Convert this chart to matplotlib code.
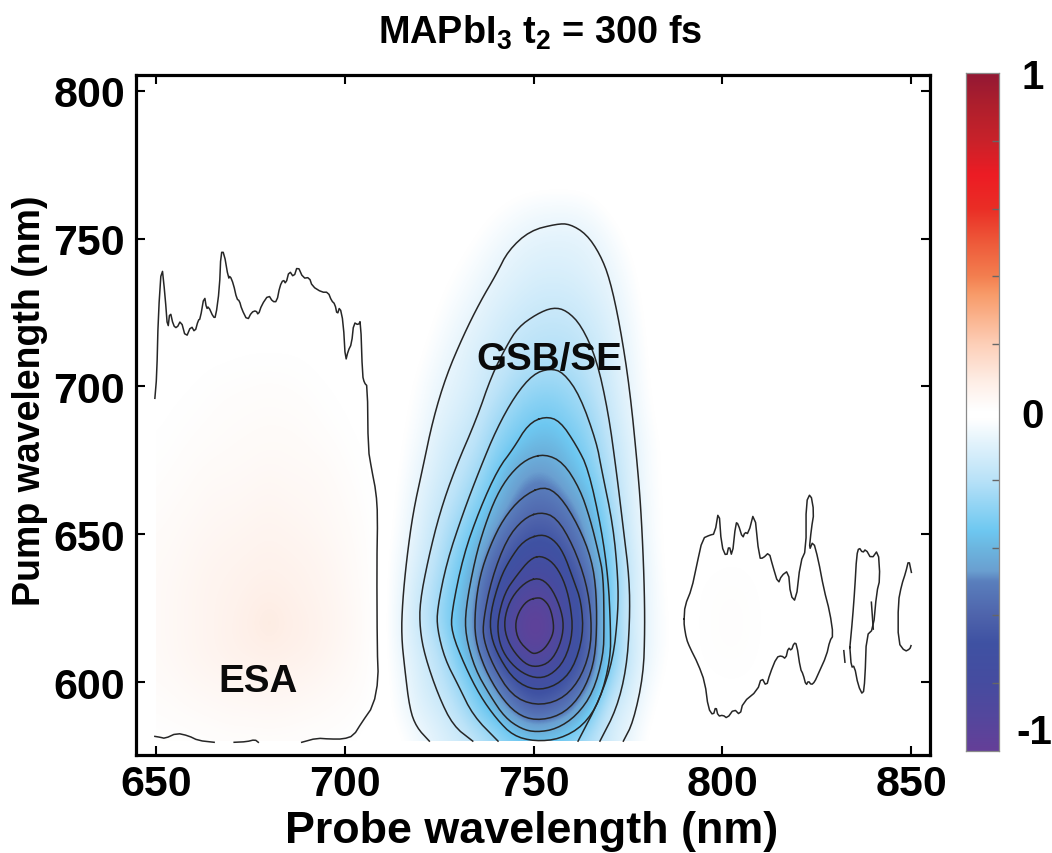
import numpy as np
import matplotlib
matplotlib.use("Agg")
import matplotlib.pyplot as plt
from matplotlib.colors import LinearSegmentedColormap
from matplotlib.patches import Rectangle
from matplotlib.transforms import ScaledTranslation

plt.rcParams['font.family'] = ['Liberation Sans', 'DejaVu Sans']
plt.rcParams['font.weight'] = 'bold'
plt.rcParams['mathtext.fontset'] = 'custom'
plt.rcParams['mathtext.bf'] = 'Liberation Sans:bold'
plt.rcParams['mathtext.rm'] = 'Liberation Sans:bold'

title = r'MAPbI$_{\mathbf{3}}$ t$_{\mathbf{2}}$ = 300 fs'
xlabel = 'Probe wavelength (nm)'
ylabel = 'Pump wavelength (nm)'
xticks = [650, 700, 750, 800, 850]
yticks = [600, 650, 700, 750, 800]

pump = [580, 590, 600, 610, 620, 630, 640, 650, 660, 670, 680, 690, 700, 710, 720, 730, 740, 750, 760, 770]
probe = list(range(650, 855, 5))

# probe 650..710
esa_values = [
    [.008, .008, .01, .012, .015, .015, .015, .015, .012, .01, .008, .002, 0],
    [.015, .02, .025, .03, .035, .035, .04, .035, .03, .025, .018, .01, 0],
    [.025, .03, .04, .045, .05, .055, .055, .055, .05, .04, .03, .018, 0],
    [.03, .04, .05, .06, .07, .075, .08, .075, .07, .055, .04, .022, 0],
    [.03, .04, .05, .06, .07, .085, .11, .085, .075, .06, .045, .025, 0],
    [.03, .04, .05, .06, .065, .075, .08, .075, .065, .055, .04, .022, 0],
    [.03, .035, .045, .055, .06, .065, .07, .065, .06, .05, .035, .02, 0],
    [.025, .03, .04, .045, .05, .055, .06, .055, .05, .04, .03, .018, 0],
    [.018, .025, .03, .04, .04, .045, .05, .045, .04, .035, .025, .012, 0],
    [.012, .018, .025, .03, .032, .035, .04, .035, .035, .03, .018, .008, 0],
    [.008, .012, .018, .022, .025, .028, .03, .03, .025, .02, .012, .004, 0],
    [.002, .008, .012, .016, .02, .022, .024, .022, .02, .012, .006, 0, 0],
    [0, .002, .006, .012, .014, .016, .018, .016, .012, .006, .002, 0, 0],
    [0, 0, 0, .002, .004, .006, .006, .006, .004, 0, 0, 0, 0],
    [0] * 13, [0] * 13, [0] * 13, [0] * 13, [0] * 13, [0] * 13,
]
# probe 715..790
gsb_values = [
    [-.01, -.05, -.10, -.13, -.18, -.24, -.30, -.335, -.32, -.27, -.20, -.13, -.07, -.01, 0, 0],
    [-.04, -.10, -.13, -.20, -.30, -.39, -.52, -.60, -.57, -.505, -.33, -.15, -.10, -.03, 0, 0],
    [-.05, -.12, -.175, -.26, -.37, -.52, -.655, -.755, -.72, -.63, -.52, -.25, -.14, -.05, -.01, 0],
    [-.07, -.13, -.20, -.33, -.49, -.69, -.87, -.94, -.89, -.74, -.59, -.335, -.17, -.07, -.02, 0],
    [-.08, -.165, -.26, -.375, -.52, -.74, -.925, -1.0, -.945, -.74, -.575, -.32, -.15, -.07, -.02, 0],
    [-.07, -.16, -.245, -.36, -.49, -.69, -.845, -.905, -.86, -.73, -.58, -.33, -.16, -.07, -.015, 0],
    [-.06, -.13, -.21, -.32, -.44, -.60, -.71, -.77, -.76, -.65, -.49, -.32, -.16, -.065, -.01, 0],
    [-.04, -.11, -.185, -.275, -.37, -.50, -.605, -.66, -.645, -.56, -.44, -.285, -.14, -.05, -.01, 0],
    [-.03, -.10, -.155, -.22, -.30, -.40, -.505, -.56, -.55, -.49, -.39, -.25, -.12, -.05, -.01, 0],
    [-.02, -.08, -.13, -.18, -.245, -.345, -.44, -.49, -.47, -.40, -.32, -.21, -.12, -.04, -.01, 0],
    [-.015, -.055, -.115, -.15, -.20, -.28, -.35, -.395, -.40, -.35, -.28, -.185, -.11, -.04, -.01, 0],
    [-.01, -.04, -.09, -.12, -.165, -.235, -.285, -.33, -.335, -.29, -.25, -.16, -.09, -.03, 0, 0],
    [-.005, -.03, -.07, -.10, -.13, -.18, -.235, -.265, -.27, -.25, -.205, -.14, -.08, -.02, 0, 0],
    [0, -.015, -.05, -.085, -.12, -.15, -.185, -.205, -.215, -.205, -.175, -.125, -.07, -.015, 0, 0],
    [0, -.005, -.03, -.065, -.095, -.125, -.155, -.175, -.18, -.175, -.145, -.11, -.06, -.01, 0, 0],
    [0, 0, -.015, -.04, -.07, -.10, -.12, -.14, -.145, -.14, -.12, -.09, -.045, -.005, 0, 0],
    [0, 0, -.005, -.02, -.045, -.075, -.095, -.11, -.115, -.11, -.095, -.07, -.03, 0, 0, 0],
    [0, 0, 0, -.005, -.02, -.045, -.07, -.085, -.09, -.09, -.08, -.045, -.01, 0, 0, 0],
    [0, 0, 0, 0, -.005, -.015, -.03, -.045, -.05, -.05, -.035, -.01, 0, 0, 0, 0],
    [0] * 16,
]
# probe 795..850
tail_values = [[0] * 12 for _ in pump]
tail_values[2] = [.002, .005, .005, .002, 0, 0, 0, 0, 0, 0, 0, 0]
tail_values[3] = [.008, .012, .012, .005, 0, 0, 0, 0, 0, 0, 0, 0]
tail_values[4] = [.008, .014, .014, .006, 0, 0, 0, 0, 0, 0, 0, 0]
tail_values[5] = [.008, .012, .012, .005, 0, 0, 0, 0, 0, 0, 0, 0]
tail_values[6] = [.002, .005, .005, .002, 0, 0, 0, 0, 0, 0, 0, 0]

# Traced contour lines (probe nm, pump nm)
c1 = [(722.4, 580), (719.0, 584.7), (717.2, 590.9), (715.9, 604.4), (715.0, 615.7), (715.3, 627.0), (716.4, 641.6), (718.1, 657.4), (720.6, 672.1), (723.4, 689.0), (726.9, 703.7), (731.4, 717.2), (735.8, 728.5), (740.2, 738.1), (743.3, 746.0), (749.0, 752.7), (756.1, 755.0), (759.6, 755.0), (764.0, 751.6), (767.6, 744.8), (770.2, 736.4), (772.9, 720.6), (775.5, 699.2), (777.7, 670.9), (778.6, 655.2), (779.3, 634.9), (779.5, 618.0), (779.1, 602.2), (776.4, 586.4), (773.8, 580)]
c2 = [(733.9, 580), (728.7, 585.2), (724.8, 595.4), (721.2, 608.9), (719.9, 618.0), (719.9, 627.0), (722.1, 641.6), (725.2, 657.4), (729.2, 672.1), (734.9, 689.0), (738.9, 703.7), (742.9, 713.8), (745.9, 720.0), (750.8, 724.5), (755.2, 726.8), (758.8, 725.7), (762.7, 720.6), (766.7, 709.3), (769.8, 691.3), (772.0, 670.9), (773.8, 651.8), (775.4, 634.9), (775.5, 620.2), (774.6, 604.4), (772.0, 590.9), (767.6, 580)]
c3 = [(740.6, 580), (734.0, 588.6), (730.1, 598.8), (726.5, 607.8), (724.5, 618.0), (724.5, 624.7), (727.0, 640.5), (731.4, 657.4), (735.8, 672.1), (740.2, 685.6), (745.1, 696.9), (749.9, 704.2), (754.3, 706.1), (757.9, 704.8), (762.3, 696.9), (766.7, 681.1), (768.0, 672.1), (771.1, 652.9), (772.4, 634.9), (772.4, 623.6), (771.1, 607.8), (767.6, 594.3), (761.8, 580)]
c4 = [(753.0, 689.9), (748.6, 687.3), (744.6, 678.9), (740.6, 672.1), (735.8, 658.6), (731.4, 642.8), (728.3, 623.6), (728.3, 616.8), (731.8, 605.5), (735.8, 595.4), (740.2, 587.5), (744.6, 581.8), (750.4, 579.9), (757.0, 580.7), (763.2, 585.2), (767.6, 593.7), (770.4, 607.8), (770.4, 619.1), (769.8, 634.9), (768.0, 651.8), (764.5, 672.1), (761.4, 680.0), (757.0, 688.4)]
c5 = [(753.0, 677.2), (748.2, 675.5), (743.8, 670.4), (740.2, 663.1), (737.1, 652.9), (734.5, 641.6), (732.0, 624.7), (732.0, 615.7), (734.5, 604.4), (738.5, 595.4), (742.4, 588.0), (746.8, 584.1), (750.8, 583.0), (756.1, 584.1), (761.4, 588.6), (765.8, 596.5), (768.5, 608.9), (768.7, 619.1), (768.5, 636.0), (767.2, 643.9), (765.0, 655.2), (762.3, 665.3), (757.9, 674.3)]
c6 = [(752.6, 666.4), (746.8, 662.5), (742.0, 655.2), (738.5, 646.1), (735.8, 636.0), (734.5, 624.7), (734.5, 614.5), (737.1, 604.4), (741.1, 595.4), (745.5, 589.2), (750.6, 586.9), (757.0, 588.6), (761.9, 594.2), (765.4, 603.3), (766.7, 613.4), (766.7, 630.0), (765.4, 641.6), (761.9, 652.9), (757.0, 663.1)]
c7 = [(751.7, 657.6), (747.3, 655.2), (742.9, 648.4), (738.9, 634.9), (736.7, 621.0), (736.7, 614.5), (739.3, 605.5), (744.2, 595.4), (750.4, 592.0), (757.0, 593.7), (761.9, 599.9), (765.0, 610.0), (765.4, 621.3), (764.0, 633.7), (760.5, 646.2), (756.1, 655.7)]
c8 = [(751.9, 650.1), (747.3, 647.8), (743.8, 641.6), (741.1, 634.9), (738.6, 623.6), (738.6, 615.7), (741.1, 607.8), (745.1, 600.4), (750.4, 597.1), (756.1, 598.8), (760.5, 604.4), (763.2, 615.7), (762.7, 627.0), (760.5, 634.9), (757.9, 643.9), (755.2, 648.4)]
c9 = [(751.9, 642.8), (749.1, 641.6), (745.5, 636.0), (742.4, 630.3), (740.5, 621.3), (740.7, 614.6), (742.4, 608.9), (746.0, 603.8), (750.4, 601.2), (754.4, 602.1), (758.3, 607.2), (760.5, 616.8), (759.7, 627.0), (757.9, 634.9), (755.2, 640.5)]
c10 = [(751.3, 635.4), (747.7, 633.7), (744.2, 628.7), (742.4, 622.4), (742.4, 616.8), (744.2, 611.2), (747.7, 606.1), (750.8, 605.0), (754.4, 606.7), (757.0, 612.3), (758.1, 619.1), (757.0, 625.8), (754.4, 632.6)]
c11 = [(751.0, 628.6), (748.2, 627.5), (746.0, 623.6), (745.1, 619.1), (746.0, 614.0), (749.1, 610.0), (750.6, 609.5), (753.0, 611.2), (755.1, 615.7), (755.4, 619.6), (754.4, 625.3), (752.6, 628.1)]

esa_line = [(649.7, 696.0), (650.2, 703.7), (650.6, 724.0), (651.5, 741.7), (652.4, 730.7), (653.1, 718.9), (653.7, 725.7), (654.6, 720.6), (655.5, 719.7), (656.6, 722.5), (657.9, 716.3), (659.3, 720.6), (660.3, 718.3), (661.2, 722.5), (661.7, 722.8), (662.8, 731.0), (663.4, 726.2), (663.9, 727.1), (665.2, 723.4), (665.8, 723.4), (666.8, 733.0), (667.2, 745.4), (668.0, 745.4), (669.2, 736.4), (669.6, 737.5), (670.5, 734.7), (671.4, 729.6), (672.1, 729.0), (672.7, 726.2), (674.2, 722.3), (675.3, 725.1), (676.5, 725.7), (677.1, 724.2), (678.0, 727.6), (679.8, 731.0), (680.9, 728.7), (682.0, 728.7), (682.8, 733.9), (683.7, 736.2), (684.4, 734.7), (685.3, 739.2), (686.5, 736.9), (687.5, 740.9), (689.0, 736.6), (690.6, 736.9), (691.4, 733.9), (693.9, 731.9), (695.6, 731.9), (696.5, 729.0), (697.4, 727.9), (698.0, 724.2), (698.7, 727.1), (699.6, 721.7), (700.2, 708.4), (700.9, 712.1), (701.8, 714.4), (702.4, 721.7), (703.6, 720.8), (704.2, 722.3), (704.7, 703.7), (705.2, 701.2), (706.0, 700.1), (706.2, 678.9), (707.1, 672.1), (708.3, 664.2), (708.7, 656.3), (708.5, 639.4), (708.6, 611.2), (708.9, 601.0), (707.6, 592.0), (704.5, 586.3), (702.3, 581.8), (699.6, 580.7), (696.1, 580.7), (692.6, 581.0), (688.6, 579.6)]
esa_foot_a = [(677.1, 579.6), (676.2, 580.5), (674.0, 579.8), (670.7, 579.6)]
esa_foot_b = [(665.4, 579.6), (661.2, 580.2), (658.6, 581.8), (655.5, 582.7), (652.4, 580.9), (651.1, 581.3), (649.7, 581.6)]
blob_a = [(789.9, 621.3), (790.1, 625.8), (791.9, 631.5), (793.2, 639.4), (794.8, 648.6), (796.7, 649.7), (798.0, 650.1), (799.1, 658.5), (799.8, 646.1), (801.1, 642.2), (801.8, 646.4), (802.6, 642.2), (803.6, 654.0), (804.2, 653.5), (805.4, 648.6), (806.0, 650.7), (806.9, 650.1), (808.5, 658.0), (809.8, 641.9), (810.8, 641.9), (812.4, 643.9), (813.3, 639.6), (814.8, 633.2), (815.7, 636.0), (817.5, 637.7), (818.1, 629.2), (819.5, 627.2), (820.7, 640.5), (822.2, 644.8), (822.2, 660.8), (823.4, 664.0), (824.3, 657.4), (823.6, 651.8), (823.0, 644.4), (824.1, 647.8), (825.4, 641.6), (826.9, 631.5), (828.5, 623.6), (829.4, 615.7), (828.5, 614.0), (827.6, 608.9), (825.4, 602.7), (824.5, 600.1), (823.6, 599.0), (822.8, 600.4), (822.2, 598.8), (821.4, 602.7), (820.7, 604.4), (819.7, 612.9), (819.0, 613.2), (818.3, 610.6), (817.5, 611.7), (816.8, 607.8), (815.7, 608.9), (814.4, 608.4), (812.6, 602.7), (811.7, 598.5), (810.4, 601.6), (809.3, 597.1), (805.5, 593.1), (804.7, 588.8), (803.1, 590.9), (801.3, 587.7), (800.2, 588.8), (798.9, 588.4), (798.3, 591.8), (797.6, 588.6), (796.3, 591.1), (795.4, 599.9), (793.6, 606.1), (791.4, 611.7), (790.5, 614.6), (789.9, 619.1), (789.9, 621.3)]
blob_b = [(833.8, 611.7), (834.5, 621.3), (835.1, 631.5), (835.6, 642.8), (836.2, 645.6), (837.2, 643.7), (838.0, 645.0), (839.5, 641.6), (841.3, 644.8), (841.8, 634.9), (840.9, 630.3), (840.0, 617.9), (838.2, 615.7), (837.8, 601.0), (837.3, 595.4), (836.0, 598.8), (835.0, 605.5), (834.2, 604.9), (833.8, 611.7)]
blob_b_inner = [(839.5, 627.0), (840.0, 617.9)]
blob_dash = [(832.2, 610.6), (832.5, 606.7)]
blob_c = [(850.1, 637.1), (849.4, 641.4), (848.6, 637.1), (847.5, 632.8), (846.6, 627.0), (846.6, 613.4), (848.4, 610.3), (849.7, 611.2), (850.0, 612.3)]

open_lines = [c1, c2, c3]
closed_lines = [c4, c5, c6, c7, c8, c9, c10, c11]
rough_lines = [esa_line, esa_foot_a, esa_foot_b, blob_a, blob_b, blob_c]
short_lines = [blob_b_inner, blob_dash]

cbar_stops = [-1.0, -0.9, -0.8, -0.68, -0.6, -0.5, -0.47, -0.4, -0.35, -0.2, -0.09, -0.02, 0.006, 0.09, 0.2, 0.35, 0.4, 0.5, 0.6, 0.7, 0.8, 0.91, 1.0]
cbar_colors = ['#653f98', '#54479d', '#464ca0', '#3f52a3', '#4f64ac', '#5a7fbd', '#6a9fd0', '#6cb6e0', '#6ec8f1', '#b9e2f8', '#e3f3fc', '#ffffff', '#ffffff', '#feeee6', '#fdcfb8', '#f89a68', '#f37f50', '#ee5a3a', '#ea2e26', '#ed1c24', '#c9222a', '#ad1f2d', '#931834']

cmap = LinearSegmentedColormap.from_list('map', [((s + 1) / 2, c) for s, c in zip(cbar_stops, cbar_colors)], N=1024)


def chaikin(points, closed, passes=2):
    pts = np.array(points, float)
    for _ in range(passes):
        if closed:
            nxt = np.roll(pts, -1, axis=0)
            pts = np.column_stack([0.75 * pts + 0.25 * nxt, 0.25 * pts + 0.75 * nxt]).reshape(-1, 2)
        else:
            a, b = pts[:-1], pts[1:]
            mid = np.column_stack([0.75 * a + 0.25 * b, 0.25 * a + 0.75 * b]).reshape(-1, 2)
            pts = np.vstack([pts[0], mid, pts[-1]])
    if closed:
        pts = np.vstack([pts, pts[0]])
    return pts


W, H = 1052, 854
fig = plt.figure(figsize=(W / 100, H / 100), dpi=100)
ax = fig.add_axes([136 / W, 1 - 756 / H, (930 - 136) / W, (756 - 76) / H])

Z = np.hstack([np.array(esa_values, float), np.array(gsb_values, float), np.array(tail_values, float)])
im = ax.imshow(Z, origin='lower', cmap=cmap, vmin=-1, vmax=1, aspect='auto', interpolation='bicubic',
               extent=(probe[0] - 2.5, probe[-1] + 2.5, pump[0] - 5, pump[-1] + 5))
im.set_clip_path(Rectangle((probe[0], pump[0]), probe[-1] - probe[0], pump[-1] - pump[0] + 5, transform=ax.transData))
ax.set_xlim(644.7, 855.03)
ax.set_ylim(575.3, 805.4)

line_kw = dict(color='#262626', lw=1.1, solid_joinstyle='round')
for line in open_lines:
    p = chaikin(line, False)
    ax.plot(p[:, 0], p[:, 1], **line_kw)
for line in closed_lines:
    p = chaikin(line, True)
    ax.plot(p[:, 0], p[:, 1], **line_kw)
for line in rough_lines:
    p = chaikin(line, False, passes=1)
    ax.plot(p[:, 0], p[:, 1], **line_kw)
for line in short_lines:
    p = np.array(line)
    ax.plot(p[:, 0], p[:, 1], **line_kw)

ax.text(754.3, 709.4, 'GSB/SE', fontsize=27.7, fontweight='bold', ha='center', va='center', color='#0a0a0a')
ax.text(677, 600.3, 'ESA', fontsize=27.7, fontweight='bold', ha='center', va='center', color='#0a0a0a')

ax.set_xticks(xticks)
ax.set_yticks(yticks)
ax.tick_params(direction='in', top=True, right=True, length=6.7, width=1.5, labelsize=31, pad=8)
ax.tick_params(axis='x', pad=6.5)
for lab in ax.get_xticklabels() + ax.get_yticklabels():
    lab.set_fontweight('bold')
for s in ax.spines.values():
    s.set_linewidth(2.3)

ax.set_xlabel(xlabel, fontsize=32.3, fontweight='bold', va='center')
ax.xaxis.set_label_coords((532 - 136) / 794, (756 - 832) / 680)
ax.set_ylabel(ylabel, fontsize=27, fontweight='bold', va='center')
ax.yaxis.set_label_coords((30 - 136) / 794, (756 - 401) / 680)
fig.text(540 / W, 1 - 33 / H, title, fontsize=27.3, fontweight='bold', ha='center', va='center')

cax = fig.add_axes([966 / W, 1 - 752 / H, 33 / W, (752 - 74) / H])
gradient = np.linspace(-1, 1, 1024).reshape(-1, 1)
cax.imshow(gradient, origin='lower', cmap=cmap, vmin=-1, vmax=1, aspect='auto', extent=(0, 1, -1, 1), interpolation='bilinear')
cax.set_xticks([])
cax.set_yticks([-1, 0, 1])
cax.set_yticklabels(['-1', '0', '1'])
cax.set_yticks(np.arange(-0.8, 0.81, 0.2), minor=True)
cax.yaxis.tick_right()
cax.tick_params(axis='y', which='major', direction='in', length=0, labelsize=29, pad=24)
cax.tick_params(axis='y', which='minor', direction='in', length=5, width=1, color='#666666')
for lab in cax.get_yticklabels():
    lab.set_fontweight('bold')
    lab.set_ha('center')
minus_one = cax.get_yticklabels()[0]
minus_one.set_transform(minus_one.get_transform() + ScaledTranslation(0.02, 0, fig.dpi_scale_trans))
minus_one.set_va('bottom')
for s in cax.spines.values():
    s.set_linewidth(0.9)
    s.set_color('#8a8a8a')

fig.savefig('out.png', dpi=100)
